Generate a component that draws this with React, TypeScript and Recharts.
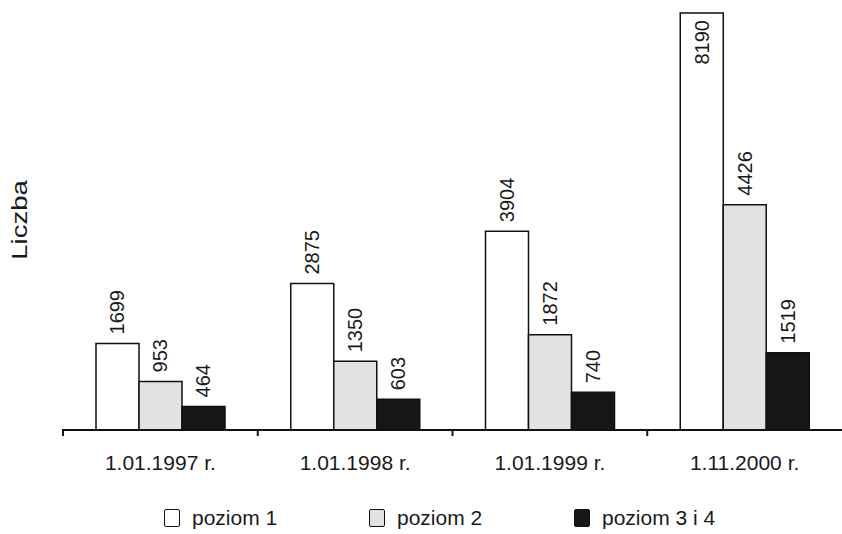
import { BarChart, Bar, XAxis, YAxis, LabelList } from 'recharts';

const dates = ['1.01.1997 r.', '1.01.1998 r.', '1.01.1999 r.', '1.11.2000 r.'];
const level1 = [1699, 2875, 3904, 8190];
const level2 = [953, 1350, 1872, 4426];
const level34 = [464, 603, 740, 1519];
const seriesNames = ['poziom 1', 'poziom 2', 'poziom 3 i 4'];
const seriesColors = ['#ffffff', '#e2e2e2', '#161616'];

const data = dates.map((d, i) => ({
  date: d,
  l1: level1[i],
  l2: level2[i],
  l34: level34[i],
}));

const W = 842;
const H = 534;
const AXIS_H = 40;
const margin = { top: 13, right: 0, bottom: 104 - AXIS_H, left: 63 };
const band = (W - margin.left - margin.right) / dates.length;
const maxVal = Math.max(...level1);
const FONT = '"Liberation Sans", Arial, sans-serif';

function ValueLabel(props: any) {
  const { x, y, width, value } = props;
  const cx = x + width / 2;
  const inside = value >= maxVal;
  const ty = inside ? y + 7 : y - 9;
  return (
    <text
      x={cx}
      y={ty}
      transform={`rotate(-90, ${cx}, ${ty})`}
      textAnchor={inside ? 'end' : 'start'}
      dominantBaseline="central"
      fontSize={20}
      fontFamily={FONT}
      fill="#1a1a1a"
    >
      {value}
    </text>
  );
}

function DateTick(props: any) {
  const { x, y, payload } = props;
  const left = x - band / 2;
  return (
    <g>
      <line x1={left} y1={y - 9} x2={left} y2={y - 2} stroke="#111" strokeWidth={2} />
      <text x={x} y={y + 32} textAnchor="middle" fontSize={21} fontFamily={FONT} fill="#1a1a1a">
        {payload.value}
      </text>
    </g>
  );
}

export default function App() {
  return (
    <div style={{ position: 'absolute', left: 0, top: 0, width: W, height: H, background: '#fff' }}>
      <BarChart width={W} height={H} data={data} margin={margin} barGap={0} barCategoryGap={33}>
        <XAxis
          dataKey="date"
          tickLine={false}
          axisLine={{ stroke: '#111', strokeWidth: 2 }}
          tick={<DateTick />}
          height={AXIS_H}
          interval={0}
        />
        <YAxis hide domain={[0, maxVal]} />
        {(['l1', 'l2', 'l34'] as const).map((k, i) => (
          <Bar
            key={k}
            dataKey={k}
            fill={seriesColors[i]}
            stroke="#111"
            strokeWidth={1.5}
            barSize={43}
            isAnimationActive={false}
          >
            <LabelList dataKey={k} content={<ValueLabel />} />
          </Bar>
        ))}
      </BarChart>
      <div
        style={{
          position: 'absolute',
          left: 0,
          top: 190,
          width: 40,
          height: 60,
          display: 'flex',
          alignItems: 'center',
          justifyContent: 'center',
        }}
      >
        <span
          style={{
            transform: 'rotate(-90deg) scaleX(1.25)',
            fontFamily: FONT,
            fontSize: 22,
            color: '#1a1a1a',
            whiteSpace: 'nowrap',
          }}
        >
          Liczba
        </span>
      </div>
      {seriesNames.map((name, i) => (
        <div
          key={name}
          style={{
            position: 'absolute',
            left: 164 + i * 205,
            top: 506,
            display: 'flex',
            alignItems: 'center',
            fontFamily: FONT,
            fontSize: 21,
            color: '#1a1a1a',
          }}
        >
          <span
            style={{
              display: 'inline-block',
              width: 14,
              height: 16,
              background: seriesColors[i],
              border: '1.5px solid #111',
              borderRadius: 2,
              marginRight: 12,
            }}
          />
          {name}
        </div>
      ))}
    </div>
  );
}
